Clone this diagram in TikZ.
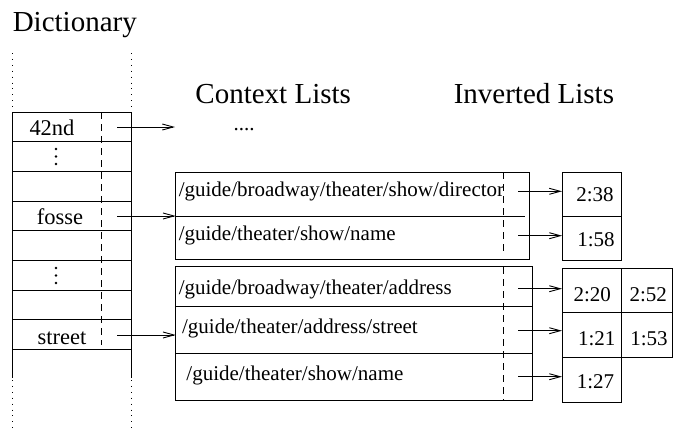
\documentclass[tikz,border=0pt]{standalone}
\usepackage{fontspec}
\setmainfont{Liberation Serif}
\usetikzlibrary{arrows.meta}
\begin{document}
\begin{tikzpicture}[x=1pt,y=-1pt,
  line width=0.9pt,
  lbl/.style={inner sep=0pt,anchor=base west,font=\fontsize{21}{25}\selectfont},
  num/.style={inner sep=0pt,anchor=base,font=\fontsize{21}{25}\selectfont},
  word/.style={inner sep=0pt,anchor=base,font=\fontsize{22.5}{27}\selectfont},
  head/.style={inner sep=0pt,anchor=base west,font=\fontsize{29}{34}\selectfont},
  dashline/.style={dash pattern=on 7pt off 5pt},
  dotline/.style={line width=0.8pt,dash pattern=on 0.9pt off 5pt},
  arr/.style={-{Straight Barb[length=11pt,width=6pt]}},
  dotmark/.style={circle,fill=black,inner sep=0pt,minimum size=2.6pt}]
\useasboundingbox (0,0) rectangle (673,432);

% headings
\node[head] (hdict) at (12.3,31.5) {Dictionary};
\node[head] (hctx) at (195,103.3) {Context Lists};
\node[head] (hinv) at (453.3,103.3) {Inverted Lists};

% dictionary table
\foreach \i in {0,...,8} {
  \draw (12.5,{112+\i*29.67}) -- (131.5,{112+\i*29.67});
}
\draw (12.5,112) -- (12.5,378);
\draw (131.5,112) -- (131.5,378);
\draw[dashline] (101.7,112) -- (101.7,345);
\draw[dotline] (12.5,53) -- (12.5,110);
\draw[dotline] (131.5,53) -- (131.5,110);
\draw[dotline] (12.5,380) -- (12.5,430);
\draw[dotline] (131.5,380) -- (131.5,430);

\node[word] (w42) at (52,135) {42nd};
\node[word] (wfosse) at (60,224) {fosse};
\node[word] (wstreet) at (62,344) {street};
\foreach \y in {149,156.5,164} { \node[dotmark] at (56,\y) {}; }
\foreach \y in {268,275.5,283} { \node[dotmark] at (56,\y) {}; }

\coordinate (s42) at (117,127);
\coordinate (sfosse) at (117,216);
\coordinate (sstreet) at (117,335);
\coordinate (e42) at (175,127);
\node[num,anchor=base] (dots) at (244,130) {....};

% context box 1
\coordinate (c1tl) at (175.7,172);
\coordinate (c1br) at (529.3,259);
\draw (c1tl) rectangle (c1br);
\coordinate (c1ml) at (175.7,216);
\coordinate (c1mr) at (525,216);
\draw (c1ml) -- (c1mr);
\draw[dashline] (503,172) -- (503,253);
\node[lbl] (t11) at (178.3,196.7) {/guide/broadway/theater/show/director};
\node[lbl] (t12) at (178.3,240.7) {/guide/theater/show/name};

% context box 2
\coordinate (c2tl) at (175.7,266.7);
\coordinate (c2br) at (532.3,400);
\draw (c2tl) rectangle (c2br);
\draw (175.7,306.7) -- (532.3,306.7);
\draw (175.7,353.3) -- (532.3,353.3);
\draw[dashline] (503,267) -- (503,400);
\coordinate (c2street) at (175.7,335);
\node[lbl] (t21) at (178.3,294) {/guide/broadway/theater/address};
\node[lbl] (t22) at (181.7,333.5) {/guide/theater/address/street};
\node[lbl] (t23) at (186,380) {/guide/theater/show/name};

% dictionary arrows
\draw[arr] (s42) -- (e42);
\draw[arr] (sfosse) -- (c1ml);
\draw[arr] (sstreet) -- (c2street);

% inverted box 1
\draw (562.3,172) rectangle (621.7,260);
\draw (562.3,216) -- (621.7,216);
\node[num] (n238) at (595,201.7) {2:38};
\node[num] (n158) at (596,246.7) {1:58};

% inverted box 2
\draw (562.3,268.3) -- (672.5,268.3) -- (672.5,357.7) -- (562.3,357.7) -- cycle;
\draw (562.3,312.3) -- (672.5,312.3);
\draw (621.7,268.3) -- (621.7,357.7);
\draw (562.3,357.7) rectangle (621.7,402.3);
\node[num] (n220) at (592.3,301.7) {2:20};
\node[num] (n252) at (648.3,301.7) {2:52};
\node[num] (n121) at (596.7,345) {1:21};
\node[num] (n153) at (649,345) {1:53};
\node[num] (n127) at (595.5,388) {1:27};

% context -> inverted arrows
\foreach \y [count=\k] in {191.3,235.7,288.7,330.7,376.7} {
  \coordinate (a\k) at (518,\y);
  \coordinate (b\k) at (562,\y);
  \draw[arr] (a\k) -- (b\k);
}
\end{tikzpicture}
\end{document}
